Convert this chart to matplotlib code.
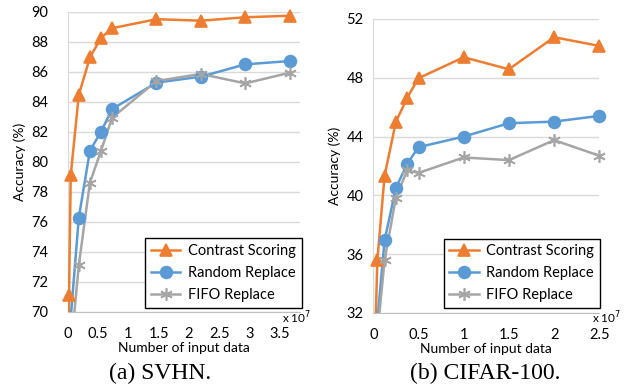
import matplotlib
matplotlib.use("Agg")
import matplotlib.pyplot as plt
from matplotlib.lines import Line2D

plt.rcParams['font.family'] = ['Lato', 'DejaVu Sans']

# ---- data (x in units of 1e7) ----
svhn_x = [0.005, 0.022, 0.05, 0.183, 0.366, 0.549, 0.732, 1.464, 2.196, 2.928, 3.66]
svhn_contrast = [60.0, 71.1, 79.1, 84.45, 86.95, 88.25, 88.9, 89.5, 89.4, 89.63, 89.73]
svhn_random = [55.0, 62.0, 69.6, 76.27, 80.73, 82.0, 83.51, 85.27, 85.67, 86.49, 86.71]
svhn_fifo = [50.0, 58.0, 67.4, 73.1, 78.6, 80.73, 82.93, 85.38, 85.85, 85.22, 85.93]

cifar_x = [0.01, 0.045, 0.125, 0.25, 0.375, 0.5, 1.0, 1.5, 2.0, 2.5]
cifar_contrast = [28.0, 35.6, 41.35, 45.0, 46.65, 47.97, 49.4, 48.58, 50.76, 50.17]
cifar_random = [25.0, 31.5, 36.95, 40.5, 42.15, 43.28, 44.0, 44.91, 45.02, 45.41]
cifar_fifo = [22.0, 30.6, 35.6, 39.85, 41.7, 41.53, 42.58, 42.4, 43.76, 42.7]

series_names = ["Contrast Scoring", "Random Replace", "FIFO Replace"]
xlabel = "Number of input data"
ylabel = "Accuracy (%)"
captions = ["(a) SVHN.", "(b) CIFAR-100."]

svhn_yticks = [70, 72, 74, 76, 78, 80, 82, 84, 86, 88, 90]
svhn_xticks = [0, 0.5, 1, 1.5, 2, 2.5, 3, 3.5]
cifar_yticks = [32, 36, 40, 44, 48, 52]
cifar_xticks = [0, 0.5, 1, 1.5, 2, 2.5]

colors = ["#ED7D31", "#5B9BD5", "#A5A5A5"]
markers = ["^", "o", (6, 2, 0)]
msizes = [8, 8.5, 9]

fig = plt.figure(figsize=(6.34, 3.87), dpi=100)
W, H = 634, 387

def px_axes(l, r, t, b):
    return fig.add_axes([l / W, 1 - b / H, (r - l) / W, (b - t) / H])

def setup(ax, x, ys, xlim, ylim, xticks, yticks, ypad, legend_box, xscale_pos):
    handles = []
    for i, (y, name) in enumerate(zip(ys, series_names)):
        ax.plot(x, y, color=colors[i], lw=1.8, zorder=3)
        vis = [(a, b) for a, b in zip(x, y) if b >= ylim[0]]
        ax.plot([a for a, _ in vis], [b for _, b in vis], ls='none',
                color=colors[i], marker=markers[i], markersize=msizes[i],
                mew=1.2, clip_on=False, zorder=4)
        handles.append(Line2D([], [], color=colors[i], lw=1.8, marker=markers[i],
                              markersize=msizes[i], mew=1.2, label=name))
    ax.set_xlim(*xlim)
    ax.set_ylim(*ylim)
    ax.set_xticks(xticks)
    ax.set_xticklabels([f"{v:g}" for v in xticks], fontsize=10.5)
    ax.set_yticks(yticks)
    ax.set_yticklabels([f"{v:g}" for v in yticks], fontsize=10.5)
    ax.tick_params(length=0)
    ax.tick_params(axis='y', pad=ypad)
    ax.tick_params(axis='x', pad=11)
    ax.grid(axis='y', color='#D9D9D9', lw=1)
    ax.set_axisbelow(True)
    for s in ['top', 'right']:
        ax.spines[s].set_visible(False)
    ax.spines['left'].set_color('#D9D9D9')
    ax.spines['bottom'].set_color('#BFBFBF')
    ax.set_xlabel(xlabel, fontsize=10, labelpad=0.5)
    ax.set_ylabel(ylabel, fontsize=10, labelpad=4)
    leg = ax.legend(handles=handles, loc='lower right', bbox_to_anchor=legend_box,
                    bbox_transform=fig.transFigure, fontsize=10.5,
                    frameon=True, fancybox=False, edgecolor='black', framealpha=1,
                    handlelength=2.0, handletextpad=0.5, labelspacing=0.55,
                    borderpad=0.4, borderaxespad=0)
    leg.get_frame().set_linewidth(1.0)
    leg.set_zorder(10)
    ax.text(xscale_pos[0] / W, 1 - xscale_pos[1] / H, r"x 10$^7$", fontsize=8.5,
            transform=fig.transFigure, ha='center', va='center')

ax1 = px_axes(67.7, 300, 11.7, 311.7)
setup(ax1, svhn_x, [svhn_contrast, svhn_random, svhn_fifo], (0, 3.83), (70, 90),
      svhn_xticks, svhn_yticks, 14, (301.5 / W, 1 - 308 / H), (297, 318))

ax2 = px_axes(373.3, 599.3, 19, 313)
setup(ax2, cifar_x, [cifar_contrast, cifar_random, cifar_fifo], (0, 2.5), (32, 52),
      cifar_xticks, cifar_yticks, 7, (599.5 / W, 1 - 308.3 / H), (607, 318))

fig.text(160 / W, 1 - 373 / H, captions[0], fontsize=17, family='Liberation Serif',
         ha='center', va='center')
fig.text(485 / W, 1 - 373 / H, captions[1], fontsize=17, family='Liberation Serif',
         ha='center', va='center')

fig.savefig("out.png", dpi=100)
